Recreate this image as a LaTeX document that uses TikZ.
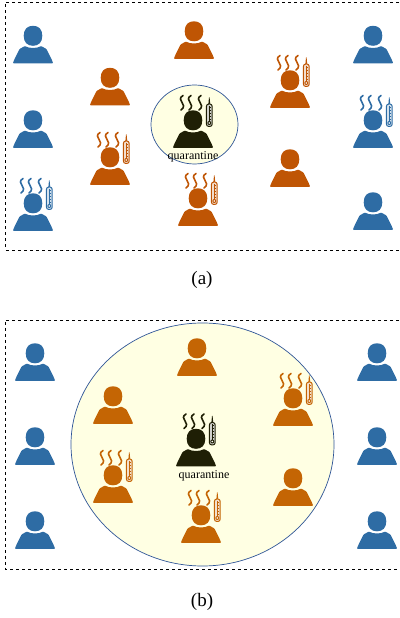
\documentclass[tikz,border=0pt]{standalone}
\usepackage{fontspec}
\setmainfont{Liberation Serif}
\definecolor{healthy}{HTML}{2E6CA4}
\definecolor{infected}{HTML}{BF5504}
\definecolor{infectedb}{HTML}{C46504}
\definecolor{isolated}{HTML}{1F1F05}
\definecolor{zone}{HTML}{FFFFE3}
\definecolor{zoneline}{HTML}{2F5597}
\tikzset{
  pics/person/.style={code={
    \fill[#1] (9.3,27.7) .. controls (9.3,34.5) and (5.5,37.7) .. (0,37.7)
      .. controls (-5.5,37.7) and (-9.3,34.5) .. (-9.3,27.7)
      .. controls (-9.3,21) and (-5.5,17.7) .. (0,17.7)
      .. controls (5.5,17.7) and (9.3,21) .. (9.3,27.7) -- cycle;
    \fill[#1,rounded corners=.8] (-20,0) -- (-19.6,2) -- (-13.5,14.5) -- (-8,17.5)
      .. controls (-4,15) and (4,15) .. (8,17.5) -- (13.5,14.5) -- (19.6,2) -- (20,0) -- cycle;
  }},
  pics/sick/.style={code={
    \pic {person=#1};
    \foreach \wx in {-11,-3,7} {
      \draw[#1,line width=1.6,line cap=round] (\wx+1,52.5) .. controls (\wx-7,47.5) and (\wx+7,44) .. (\wx-1,38);
    }
    \fill[#1] (15.2,42) -- (16,50.5) -- (16.6,50.5) -- (17.4,42) -- cycle;
    \filldraw[draw=#1,fill=#1!20!white,line width=1,rounded corners=2.4] (13.4,21.5) rectangle (19.2,44);
    \fill[#1] (16.3,25) circle (2);
    \fill[white] (16.3,25) circle (.9);
    \fill[#1] (15.7,26.5) rectangle (16.5,42);
    \foreach \ty in {29,32,35,38,41} {
      \draw[#1,line width=.4] (16.5,\ty) -- (18.4,\ty);
    }
  }},
  frame/.style={draw=black,dashed,line width=.8},
  captext/.style={font=\fontsize{19}{22}\selectfont,inner sep=0},
  qlabel/.style={font=\fontsize{12}{14}\selectfont,inner sep=0},
}
\begin{document}
\begin{tikzpicture}[x=1pt,y=1pt]
  \useasboundingbox (0,0) rectangle (399,618);
  % panel a
  \draw[frame] (399,616) -- (5.5,616) -- (5.5,368) -- (399,368);
  \filldraw[fill=zone,draw=zoneline,line width=.7] (194.5,493.5) ellipse (43.5 and 39.5);
  \pic (a1) at (33,554.5) {person=healthy};
  \pic (a2) at (33,470) {person=healthy};
  \pic (a3) at (33,387) {sick=healthy};
  \pic (a4) at (110,512.5) {person=infected};
  \pic (a5) at (110,433) {sick=infected};
  \pic (a6) at (194,559) {person=infected};
  \pic (a7) at (198,392) {sick=infected};
  \pic (a8) at (290,510) {sick=infected};
  \pic (a9) at (290,431) {person=infected};
  \pic (a10) at (373,554.5) {person=healthy};
  \pic (a11) at (373,470) {sick=healthy};
  \pic (a12) at (373,388) {person=healthy};
  \pic (a13) at (193,470) {sick=isolated};
  \node[qlabel] (qa) at (193,461) {quarantine};
  \node[captext] (capa) at (202,338.5) {(a)};
  % panel b
  \draw[frame] (399,298) -- (5,298) -- (5,49) -- (399,49);
  \filldraw[fill=zone,draw=zoneline,line width=.7] (202.5,173.5) ellipse (131.5 and 121.5);
  \pic (b1) at (35,237) {person=healthy};
  \pic (b2) at (35,153) {person=healthy};
  \pic (b3) at (35,69) {person=healthy};
  \pic (b4) at (377,237) {person=healthy};
  \pic (b5) at (377,153) {person=healthy};
  \pic (b6) at (377,69) {person=healthy};
  \pic (b7) at (197,242) {person=infectedb};
  \pic (b8) at (113,194) {person=infectedb};
  \pic (b9) at (113,115) {sick=infectedb};
  \pic (b10) at (201,75) {sick=infectedb};
  \pic (b11) at (293,192) {sick=infectedb};
  \pic (b12) at (293,112) {person=infectedb};
  \pic (b13) at (196,151.5) {sick=isolated};
  \node[qlabel] (qb) at (204,142) {quarantine};
  \node[captext] (capb) at (202,16) {(b)};
\end{tikzpicture}
\end{document}
